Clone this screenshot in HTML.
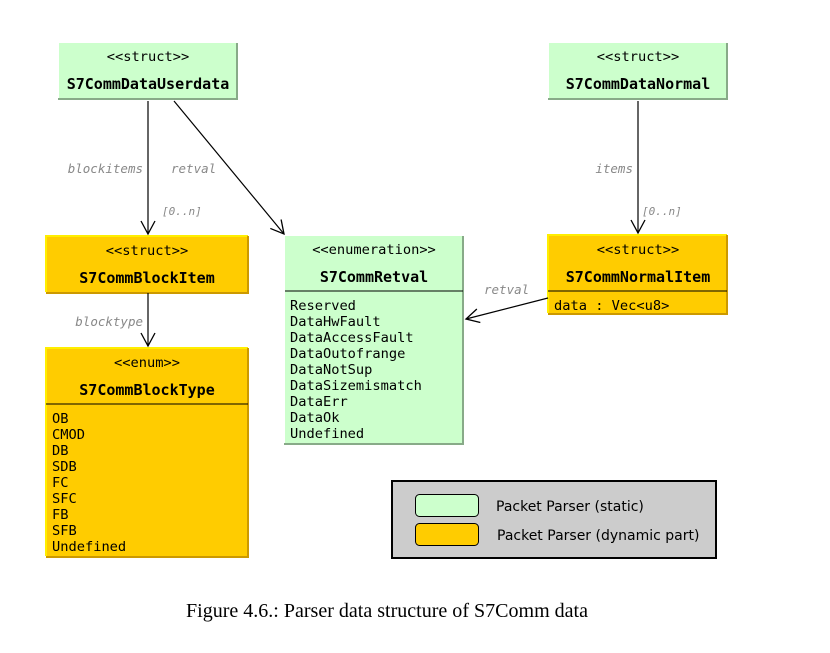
<!DOCTYPE html>
<html><head><meta charset="utf-8"><style>
html,body{margin:0;padding:0;background:#fff;width:830px;height:653px;overflow:hidden}
svg{display:block}
.m{font-family:"DejaVu Sans Mono","Liberation Mono",monospace;font-size:13.7px;fill:#000}
.b{font-weight:bold;font-size:15px}
.l{font-family:"DejaVu Sans Mono","Liberation Mono",monospace;font-size:12.5px;font-style:italic;fill:#888}
.s{font-size:11px}
</style></head><body>
<svg width="830" height="653" viewBox="0 0 830 653" xmlns="http://www.w3.org/2000/svg">
<defs>
<marker id="a" markerWidth="16" markerHeight="16" refX="14" refY="8" orient="auto" markerUnits="userSpaceOnUse">
<path d="M1,1 L14,8 L1,15" fill="none" stroke="#000" stroke-width="1.3"/></marker>
</defs>
<g>
<rect x="59" y="43" width="178" height="55" fill="#ccffcc"/>
<path d="M237,43 V99 H58" stroke="#88aa88" stroke-width="2" fill="none"/>
<text class="m" x="148" y="61" text-anchor="middle">&lt;&lt;struct&gt;&gt;</text>
<text class="m b" x="148" y="89" text-anchor="middle">S7CommDataUserdata</text>

<rect x="549" y="43" width="178" height="55" fill="#ccffcc"/>
<path d="M727,43 V99 H548" stroke="#88aa88" stroke-width="2" fill="none"/>
<text class="m" x="638" y="61" text-anchor="middle">&lt;&lt;struct&gt;&gt;</text>
<text class="m b" x="638" y="89" text-anchor="middle">S7CommDataNormal</text>

<rect x="285" y="236" width="178" height="207" fill="#ccffcc"/>
<path d="M463,236 V444 H284" stroke="#88aa88" stroke-width="2" fill="none"/>
<line x1="285" y1="291" x2="463" y2="291" stroke="#000" stroke-width="1"/>
<text class="m" x="374" y="254" text-anchor="middle">&lt;&lt;enumeration&gt;&gt;</text>
<text class="m b" x="374" y="282" text-anchor="middle">S7CommRetval</text>
<g class="m">
<text x="290" y="310">Reserved</text>
<text x="290" y="326">DataHwFault</text>
<text x="290" y="342">DataAccessFault</text>
<text x="290" y="358">DataOutofrange</text>
<text x="290" y="374">DataNotSup</text>
<text x="290" y="390">DataSizemismatch</text>
<text x="290" y="406">DataErr</text>
<text x="290" y="422">DataOk</text>
<text x="290" y="438">Undefined</text>
</g>
</g>
<g>
<rect x="46" y="236" width="202" height="56" fill="#ffcc00"/>
<path d="M46,292 V236 H248" stroke="#ffee00" stroke-width="2" fill="none"/>
<path d="M248,236 V293 H46" stroke="#cc9900" stroke-width="2" fill="none"/>
<text class="m" x="147" y="255" text-anchor="middle">&lt;&lt;struct&gt;&gt;</text>
<text class="m b" x="147" y="283" text-anchor="middle">S7CommBlockItem</text>

<rect x="548" y="235" width="179" height="78" fill="#ffcc00"/>
<path d="M548,313 V235 H727" stroke="#ffee00" stroke-width="2" fill="none"/>
<path d="M727,235 V314 H548" stroke="#cc9900" stroke-width="2" fill="none"/>
<line x1="548" y1="291" x2="727" y2="291" stroke="#000" stroke-width="1"/>
<text class="m" x="638" y="254" text-anchor="middle">&lt;&lt;struct&gt;&gt;</text>
<text class="m b" x="638" y="282" text-anchor="middle">S7CommNormalItem</text>
<text class="m" x="554" y="310">data : Vec&lt;u8&gt;</text>

<rect x="46" y="348" width="202" height="208" fill="#ffcc00"/>
<path d="M46,556 V348 H248" stroke="#ffee00" stroke-width="2" fill="none"/>
<path d="M248,348 V557 H46" stroke="#cc9900" stroke-width="2" fill="none"/>
<line x1="46" y1="404" x2="248" y2="404" stroke="#000" stroke-width="1"/>
<text class="m" x="147" y="367" text-anchor="middle">&lt;&lt;enum&gt;&gt;</text>
<text class="m b" x="147" y="395" text-anchor="middle">S7CommBlockType</text>
<g class="m">
<text x="52" y="423">OB</text>
<text x="52" y="439">CMOD</text>
<text x="52" y="455">DB</text>
<text x="52" y="471">SDB</text>
<text x="52" y="487">FC</text>
<text x="52" y="503">SFC</text>
<text x="52" y="519">FB</text>
<text x="52" y="535">SFB</text>
<text x="52" y="551">Undefined</text>
</g>
</g>
<g stroke="#000" stroke-width="1.2" fill="none">
<line x1="148" y1="101" x2="148" y2="234" marker-end="url(#a)"/>
<line x1="174" y1="101" x2="284" y2="234" marker-end="url(#a)"/>
<line x1="638" y1="101" x2="638" y2="233" marker-end="url(#a)"/>
<line x1="548" y1="298" x2="466" y2="319" marker-end="url(#a)"/>
<line x1="148" y1="293" x2="148" y2="346" marker-end="url(#a)"/>
</g>
<text class="l" x="143" y="173" text-anchor="end">blockitems</text>
<text class="l" x="171" y="173">retval</text>
<text class="l s" x="162" y="215">[0..n]</text>
<text class="l" x="633" y="173" text-anchor="end">items</text>
<text class="l s" x="642" y="215">[0..n]</text>
<text class="l" x="484" y="294">retval</text>
<text class="l" x="143" y="326" text-anchor="end">blocktype</text>
<rect x="392" y="481" width="324" height="77" fill="#cccccc" stroke="#000" stroke-width="2"/>
<rect x="415.5" y="494.5" width="63" height="22" rx="4" fill="#ccffcc" stroke="#000" stroke-width="1"/>
<rect x="415.5" y="523.5" width="63" height="22" rx="4" fill="#ffcc00" stroke="#000" stroke-width="1"/>
<text x="496" y="511" font-family="DejaVu Sans,Liberation Sans,sans-serif" font-size="14">Packet Parser (static)</text>
<text x="497" y="540" font-family="DejaVu Sans,Liberation Sans,sans-serif" font-size="14">Packet Parser (dynamic part)</text>
<text x="387" y="617" text-anchor="middle" font-family="Liberation Serif,serif" font-size="20" textLength="402" lengthAdjust="spacingAndGlyphs">Figure 4.6.: Parser data structure of S7Comm data</text>
</svg>
</body></html>
